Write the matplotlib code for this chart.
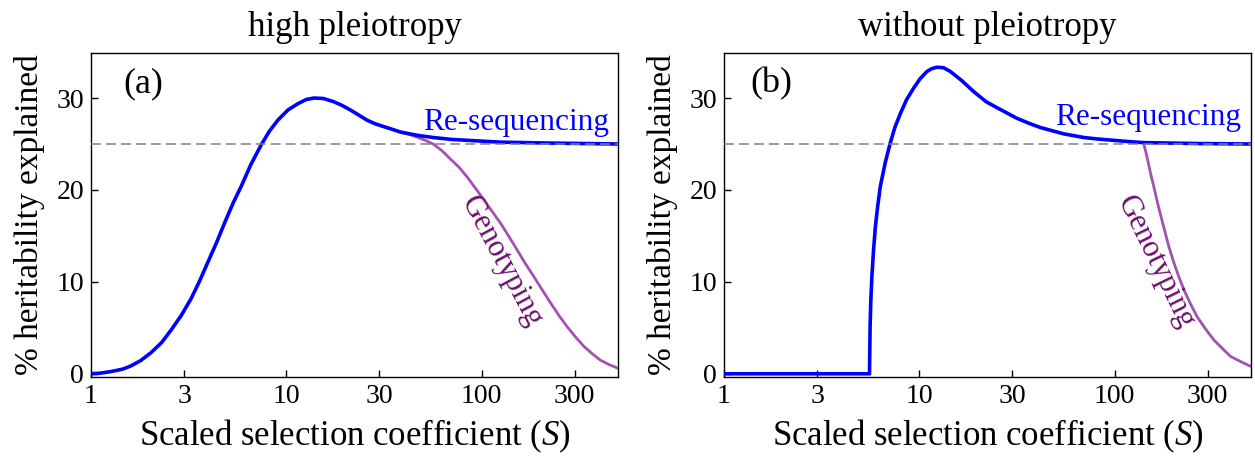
import matplotlib
matplotlib.use("Agg")
import matplotlib.pyplot as plt
from matplotlib.ticker import NullLocator

# ---- data ----
titles = ["high pleiotropy", "without pleiotropy"]
panel_tags = ["(a)", "(b)"]
xticks = [1, 3, 10, 30, 100, 300]
xtick_labels = ["1", "3", "10", "30", "100", "300"]
yticks = [0, 10, 20, 30]
baseline = 25

# panel (a) high pleiotropy
a_reseq_S = [1, 1.13, 1.27, 1.45, 1.6, 1.8, 2.03, 2.3, 2.57, 2.9, 3.26, 3.6, 3.96, 4.4, 4.83,
             5.35, 5.88, 6.6, 7.44, 8.2, 9.06, 10.2, 11.5, 12.7, 13.9, 15.5, 17.5, 19.3, 21.3,
             23.5, 25.9, 28.5, 31.5, 38.5, 46.7, 56.8, 70, 84.5, 125, 226, 500]
a_reseq_h = [0, 0.08, 0.25, 0.5, 0.85, 1.45, 2.3, 3.4, 4.75, 6.35, 8.2, 10.1, 12.1, 14.3, 16.4,
             18.6, 20.4, 22.8, 24.9, 26.4, 27.6, 28.7, 29.4, 29.85, 30.0, 29.95, 29.6, 29.2, 28.7,
             28.15, 27.6, 27.2, 26.9, 26.3, 25.95, 25.7, 25.5, 25.4, 25.2, 25.1, 25.0]
a_geno_S = [38.5, 42.5, 46.7, 51.5, 56.8, 62.5, 69, 76.5, 84.5, 93, 103, 113, 125, 138, 152,
            167, 185, 205, 226, 249, 275, 303, 334, 368, 405, 450, 500]
a_geno_h = [26.3, 26.05, 25.75, 25.4, 24.97, 24.3, 23.4, 22.5, 21.4, 20.2, 18.9, 17.7, 16.4,
            14.95, 13.5, 12.05, 10.6, 9.1, 7.7, 6.35, 5.1, 4.0, 3.0, 2.2, 1.5, 1.0, 0.6]

# panel (b) without pleiotropy
b_reseq_S = [1, 5.56, 5.58, 5.6, 5.65, 5.72, 5.83, 5.96, 6.13, 6.32, 6.7, 7.1, 7.5, 8.0, 8.6,
             9.37, 10.1, 10.96, 11.6, 12.3, 13.3, 14.4, 16.5, 19.0, 22, 25.0, 31.6, 37, 41.6, 55,
             70, 81.3, 120, 141, 265, 500]
b_reseq_h = [0, 0, 2.5, 5.1, 8.0, 10.6, 13.4, 16.0, 18.3, 20.4, 23.0, 25.1, 26.8, 28.3, 29.8,
             31.1, 32.1, 32.9, 33.2, 33.35, 33.3, 32.9, 31.9, 30.7, 29.6, 28.95, 27.8, 27.2, 26.8,
             26.1, 25.7, 25.55, 25.25, 25.15, 25.05, 25.0]
b_geno_S = [141, 147, 153, 160, 166, 173, 180, 190, 202, 214, 227, 245, 265, 292, 322, 355,
            392, 445, 500]
b_geno_h = [25.1, 23.5, 21.8, 20.1, 18.6, 17.1, 15.7, 13.8, 12.0, 10.5, 9.1, 7.6, 6.2, 4.9,
            3.7, 2.8, 1.9, 1.3, 0.8]

panels = [
    (a_reseq_S, a_reseq_h, a_geno_S, a_geno_h),
    (b_reseq_S, b_reseq_h, b_geno_S, b_geno_h),
]

# ---- styling ----
FONT = ["Liberation Serif", "DejaVu Serif"]
plt.rcParams["font.family"] = FONT
plt.rcParams["mathtext.fontset"] = "custom"
plt.rcParams["mathtext.it"] = "Liberation Serif:italic"
plt.rcParams["mathtext.rm"] = "Liberation Serif"

BLUE = "#0000ff"
PURPLE = "#a452b2"
PURPLE_TXT = "#6b0f6e"
GREY = "#808080"

fig = plt.figure(figsize=(12.55, 4.59), dpi=100)
lefts = [91 / 1255, 724 / 1255]
W = 527 / 1255
B = (459 - 377) / 459
H = 324 / 459

geno_text = [(127, 12.2, -62), (162, 12.1, -64)]
reseq_text = [(448, 26.5), (443, 27.1)]
tag_x = [0.099, 0.09]

for i, (rs, rh, gs, gh) in enumerate(panels):
    ax = fig.add_axes([lefts[i], B, W, H])
    ax.set_xscale("log")
    ax.plot(gs, gh, color=PURPLE, lw=2.0, zorder=2)
    ax.plot(rs, rh, color=BLUE, lw=2.6, zorder=3)
    ax.axhline(baseline, color=GREY, lw=1.1, ls=(0, (6.5, 3.3)), zorder=4)
    ax.set_xlim(1, 500)
    ax.set_ylim(-0.35, 34.9)
    ax.set_xticks(xticks)
    ax.set_xticklabels(xtick_labels)
    ax.xaxis.set_minor_locator(NullLocator())
    ax.set_yticks(yticks)
    ax.tick_params(direction="in", length=5, width=1, labelsize=20, pad=5)
    for sp in ax.spines.values():
        sp.set_linewidth(1.0)
    ax.set_xlabel(r"Scaled selection coefficient ($S$)", fontsize=25, labelpad=6)
    ax.set_ylabel("% heritability explained", fontsize=24, labelpad=8)
    ax.set_title(titles[i], fontsize=25, pad=12)
    ax.text(tag_x[i], 0.905, panel_tags[i], transform=ax.transAxes,
            fontsize=26, ha="center", va="center")
    tx, ty = reseq_text[i]
    ax.text(tx, ty, "Re-sequencing", color=BLUE, fontsize=22.5, ha="right", va="baseline")
    gx, gy, rot = geno_text[i]
    ax.text(gx, gy, "Genotyping", color=PURPLE_TXT, fontsize=22, ha="center", va="center",
            rotation=rot, rotation_mode="anchor")

fig.savefig("out.png", dpi=100)
